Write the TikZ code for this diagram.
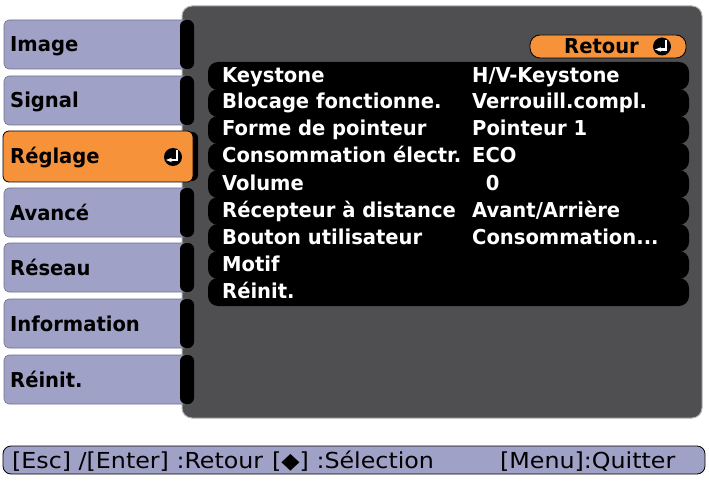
\documentclass[tikz,border=0pt]{standalone}
\usepackage{fontspec}
\usetikzlibrary{arrows.meta}
\setmainfont{DejaVu Sans Condensed}
\newcommand{\mywd}[1]{\scalebox{1.06}[1]{#1}}
\begin{document}
\begin{tikzpicture}[x=1pt,y=-1pt,
 tab/.style={fill=tabc,rounded corners=5pt,draw=tabc!70!black,line width=0.6pt},
 lbl/.style={anchor=base west,font=\fontsize{20.5}{20}\selectfont\bfseries,inner sep=0pt},
 wl/.style={lbl,text=white},
 bt/.style={anchor=base west,inner sep=0pt,font=\fontsize{22}{22}\selectfont},
 row/.style={fill=black,rounded corners=10pt},
 ent/.style={white,line width=2.2pt,-{Stealth[length=6pt]}}]
\definecolor{tabc}{HTML}{A0A1C6}
\definecolor{org}{HTML}{F5923A}
\definecolor{pan}{HTML}{4F4F51}
\useasboundingbox[fill=white] (0,0) rectangle (709,481);
% panel
\draw[fill=pan,draw=gray!60,line width=1pt,rounded corners=10pt] (182,6) rectangle (702,418);
% tabs
\foreach \t/\y [count=\i] in {Image/20,Signal/76,Avancé/188,Réseau/243,Information/299,Réinit./355}{
  \path[tab] (4,\y) rectangle (190,\y+49);
  \fill[black,rounded corners=6pt] (180,\y) rectangle (194,\y+49);
  \node[lbl] (t\i) at (10,\y+32) {\mywd{\t}};}
\fill[black,rounded corners=6pt] (180,132) rectangle (198,181);
\draw[fill=org,draw=black,line width=0.8pt,rounded corners=6pt] (3,131) rectangle (193,182);
\node[lbl] (treg) at (10,164) {\mywd{Réglage}};
\fill[black] (173,157) circle (9);
\draw[ent] (177,150.5) -- (177,160) -- (166,160);
% rows
\foreach \y in {62,89,116,143,170,197,224,251,278}{
  \fill[row] (208,\y) rectangle (689,\y+28);}
\foreach \a/\b/\y [count=\i] in {Keystone/{H/V-Keystone}/83,Blocage fonctionne./Verrouill.compl./109,Forme de pointeur/Pointeur 1/136,Consommation électr./ECO/163,Volume/{\ \ 0}/190,Récepteur à distance/{Avant/Arrière}/217,Bouton utilisateur/{Consommation...}/244,Motif/{}/271,Réinit./{}/298}{
  \node[wl] (a\i) at (222,\y) {\mywd{\a}};
  \node[wl] (b\i) at (472,\y) {\mywd{\b}};}
% retour
\draw[fill=org,draw=black,line width=0.8pt,rounded corners=10pt] (530,35) rectangle (686,58);
\node[lbl] (ret) at (564,53.5) {\mywd{Retour}};
\fill[black] (662,46.5) circle (9);
\draw[ent] (666,40) -- (666,49.5) -- (655,49.5);
% bottom bar
\draw[fill=tabc,draw=black,line width=0.8pt,rounded corners=8pt] (3,446) rectangle (705,474);
\node[bt] (bb) at (12,468) {\scalebox{1.2}[1]{[Esc] /[Enter] :Retour}};
\node[bt] (bs) at (272,468) {\scalebox{1.2}[1]{[◆] :Sélection}};
\node[bt] (bq) at (500,468) {\scalebox{1.2}[1]{[Menu]:Quitter}};
\end{tikzpicture}
\end{document}
